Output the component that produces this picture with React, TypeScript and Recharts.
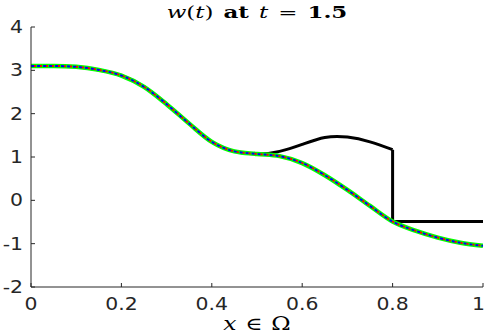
import { LineChart, Line, XAxis, YAxis } from 'recharts';

// x grid shared by the approximations (step 0.05)
const xGrid = [0, 0.05, 0.1, 0.15, 0.2, 0.25, 0.3, 0.35, 0.4, 0.45, 0.5,
  0.55, 0.6, 0.65, 0.7, 0.75, 0.8, 0.85, 0.9, 0.95, 1];

// numerical approximations (green / blue / red overlay, same values)
const approxW = [3.1, 3.1, 3.08, 3.01, 2.88, 2.62, 2.22, 1.77, 1.35, 1.13, 1.07,
  1.02, 0.86, 0.58, 0.24, -0.13, -0.49, -0.7, -0.86, -0.98, -1.05];

// reference solution, smooth part on [0, 0.8]
const exactLeft = [3.1, 3.1, 3.08, 3.01, 2.88, 2.62, 2.22, 1.77, 1.35, 1.13, 1.07,
  1.13, 1.29, 1.45, 1.46, 1.35, 1.17];
const jumpX = 0.8;
const exactRight = -0.49;

const xTicks = [0, 0.2, 0.4, 0.6, 0.8, 1];
const yTicks = [-2, -1, 0, 1, 2, 3, 4];

const approxData = xGrid.map((x, i) => ({ x, y: approxW[i] }));
const exactSmooth = exactLeft.map((y, i) => ({ x: xGrid[i], y }));
const exactJump = [
  { x: jumpX, y: exactLeft[exactLeft.length - 1] },
  { x: jumpX, y: exactRight },
  { x: 1, y: exactRight },
];

const AXIS = '#262626';

// matlab's export is stretched sideways, so widen the labels a bit
const XTick = (props: any) => {
  const last = props.payload.value === 1;
  return (
    <g transform={`translate(${last ? props.x + 3 : props.x},${props.y}) scale(1.2,1)`}>
      <text textAnchor={last ? 'end' : 'middle'} dy="0.71em" fill={AXIS} fontSize={17} fontFamily="DejaVu Sans">
        {props.payload.value}
      </text>
    </g>
  );
};

const YTick = (props: any) => (
  <g transform={`translate(${props.x},${props.y}) scale(1.2,1)`}>
    <text textAnchor="end" dy="0.36em" fill={AXIS} fontSize={17} fontFamily="DejaVu Sans">
      {props.payload.value}
    </text>
  </g>
);

export default function App() {
  return (
    <div style={{ position: 'absolute', left: 0, top: 0, width: 486, height: 335, background: '#fff' }}>
      <div style={{
        position: 'absolute', left: 31, width: 452, top: 0, textAlign: 'center',
        fontFamily: '"DejaVu Serif", serif', fontSize: 17, lineHeight: '24px', color: '#000',
        wordSpacing: 2, transform: 'scaleX(1.35)', transformOrigin: '226px 0',
      }}>
        <i>w</i>(<i>t</i>) <b>at</b> <i>t</i> = <b>1.5</b>
      </div>
      <LineChart width={486} height={335} margin={{ top: 27, right: 3, bottom: 18, left: 0 }}>
        <XAxis
          dataKey="x"
          type="number"
          domain={[0, 1]}
          ticks={xTicks}
          allowDataOverflow
          height={30}
          stroke={AXIS}
          tickSize={-4}
          tickMargin={15}
          tick={XTick}
        />
        <YAxis
          type="number"
          domain={[-2, 4]}
          ticks={yTicks}
          allowDataOverflow
          width={31}
          stroke={AXIS}
          tickSize={-4}
          tickMargin={12}
          tick={YTick}
        />
        <Line data={exactSmooth} dataKey="y" type="natural" stroke="#000" strokeWidth={3}
          dot={false} isAnimationActive={false} />
        <Line data={exactJump} dataKey="y" type="linear" stroke="#000" strokeWidth={3}
          dot={false} isAnimationActive={false} />
        <Line data={approxData} dataKey="y" type="monotone" stroke="#00ff00" strokeWidth={4.5}
          dot={false} isAnimationActive={false} />
        <Line data={approxData} dataKey="y" type="monotone" stroke="#0000ff" strokeWidth={2}
          strokeDasharray="3 3" dot={false} isAnimationActive={false} />
        <Line data={approxData} dataKey="y" type="monotone" stroke="#ff0000" strokeWidth={2}
          strokeDasharray="2 4" strokeDashoffset={-3} dot={false} isAnimationActive={false} />
      </LineChart>
      <div style={{
        position: 'absolute', left: 31, width: 452, top: 312, textAlign: 'center',
        fontFamily: '"DejaVu Serif", serif', fontSize: 18, lineHeight: '24px', color: '#000',
        wordSpacing: 1, transform: 'scaleX(1.3)', transformOrigin: '226px 0',
      }}>
        <i>x</i> ∈ Ω
      </div>
    </div>
  );
}
